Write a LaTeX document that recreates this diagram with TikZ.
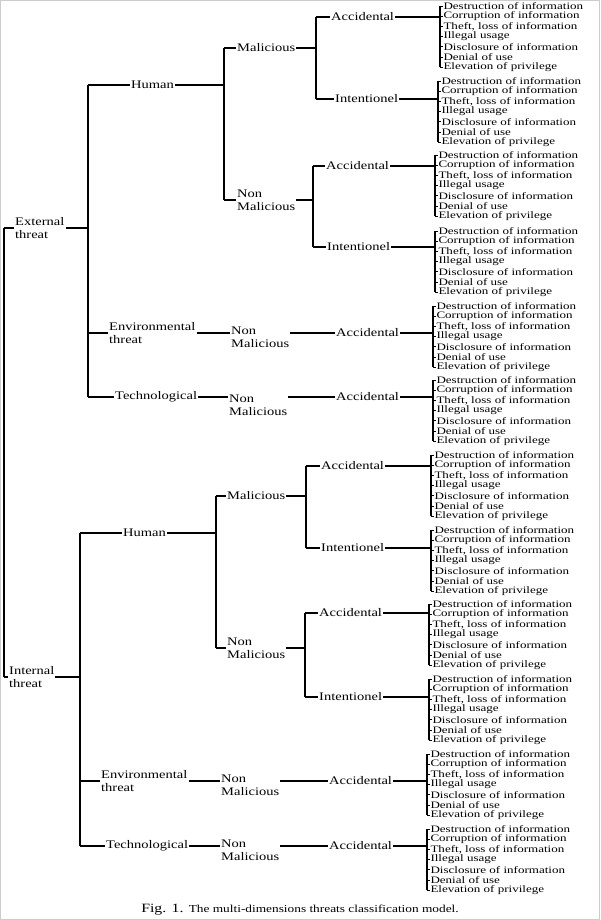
\documentclass[tikz,border=0pt]{standalone}
\usepackage{fontspec}
\setmainfont{Liberation Serif}[FakeStretch=1.25]
\newfontfamily\leaffont{Liberation Serif}[FakeStretch=1.32]
\begin{document}
\begin{tikzpicture}[x=0.75pt,y=-0.75pt,line width=0.8pt,
  lbl/.style={anchor=west,inner sep=0.5pt,font=\fontsize{8.7}{9.6}\selectfont,align=left},
  leaf/.style={anchor=west,inner sep=0pt,font=\leaffont\fontsize{7.4}{8}\selectfont}]
\useasboundingbox (0,0) rectangle (600,920);
\draw[gray!40,line width=1pt] (0.7,0.7) rectangle (599.3,919.3);
\newcommand\leafgrp[4]{%
  \coordinate (#1b) at (#2,#3);
  \foreach \t [count=\i from 0] in {Destruction of information, Corruption of information, {Theft, loss of information}, Illegal usage, Disclosure of information, Denial of use, Elevation of privilege} {
    \node[leaf] (#1-\i) at (#2+3,#3+\i*10.2) {\t};
    \draw[line width=0.7pt] (#2,#3+\i*10.2) -- (#1-\i.west);
  }
  \draw (#2,#3) -- (#2,#3+61.2);
  \draw (#4.east) -- (#4.east -| #1b);
}
\newcommand\forktwo[4]{% parent, x, child1, child2
  \coordinate (fk) at (#2,0);
  \draw (#1.east) -- (#1.east -| fk);
  \draw (#3.west -| fk) -- (#4.west -| fk);
  \draw (#3.west -| fk) -- (#3.west);
  \draw (#4.west -| fk) -- (#4.west);
}
% External
\node[lbl] (E) at (14,228) {External\\threat};
\node[lbl] (H1) at (130,85) {Human};
\node[lbl] (M1) at (236,48) {Malicious};
\node[lbl] (N1) at (236,200) {Non\\Malicious};
\node[lbl] (A1) at (330,17) {Accidental};
\node[lbl] (I1) at (334,99) {Intentionel};
\node[lbl] (A2) at (325,166) {Accidental};
\node[lbl] (I2) at (326,247) {Intentionel};
\node[lbl] (Env1) at (108,333) {Environmental\\threat};
\node[lbl] (N2) at (230,337) {Non\\Malicious};
\node[lbl] (A3) at (335,333) {Accidental};
\node[lbl] (T1) at (114,397) {Technological};
\node[lbl] (N3) at (228,405) {Non\\Malicious};
\node[lbl] (A4) at (335,397) {Accidental};
% Internal
\node[lbl] (I) at (8,677) {Internal\\threat};
\node[lbl] (H2) at (122,533) {Human};
\node[lbl] (M2) at (226,496) {Malicious};
\node[lbl] (N4) at (226,648) {Non\\Malicious};
\node[lbl] (A5) at (320,466) {Accidental};
\node[lbl] (I3) at (320,548) {Intentionel};
\node[lbl] (A6) at (318,613) {Accidental};
\node[lbl] (I4) at (318,697) {Intentionel};
\node[lbl] (Env2) at (100,781) {Environmental\\threat};
\node[lbl] (N5) at (220,785) {Non\\Malicious};
\node[lbl] (A7) at (328,781) {Accidental};
\node[lbl] (T2) at (105,846) {Technological};
\node[lbl] (N6) at (220,850) {Non\\Malicious};
\node[lbl] (A8) at (328,846) {Accidental};
% root
\coordinate (R) at (4,0);
\draw (E.west -| R) -- (I.west -| R);
\draw (E.west -| R) -- (E.west);
\draw (I.west -| R) -- (I.west);
% external forks
\coordinate (x88) at (88,0);
\draw (E.east) -- (E.east -| x88);
\draw (H1.west -| x88) -- (T1.west -| x88);
\foreach \c in {H1,Env1,T1} \draw (\c.west -| x88) -- (\c.west);
\forktwo{H1}{224}{M1}{N1}
\forktwo{M1}{316}{A1}{I1}
\forktwo{N1}{313}{A2}{I2}
\draw (Env1.east) -- (Env1.east -| N2.west);
\draw (N2.east |- A3.west) -- (A3.west);
\draw (T1.east) -- (T1.east -| N3.west);
\draw (N3.east |- A4.west) -- (A4.west);
% internal forks
\coordinate (x80) at (80,0);
\draw (I.east) -- (I.east -| x80);
\draw (H2.west -| x80) -- (T2.west -| x80);
\foreach \c in {H2,Env2,T2} \draw (\c.west -| x80) -- (\c.west);
\forktwo{H2}{216}{M2}{N4}
\forktwo{M2}{306}{A5}{I3}
\forktwo{N4}{305}{A6}{I4}
\draw (Env2.east) -- (Env2.east -| N5.west);
\draw (N5.east |- A7.west) -- (A7.west);
\draw (T2.east) -- (T2.east -| N6.west);
\draw (N6.east |- A8.west) -- (A8.west);
% leaves
\leafgrp{g1}{440}{6}{A1}
\leafgrp{g2}{438}{81}{I1}
\leafgrp{g3}{435}{155}{A2}
\leafgrp{g4}{435}{231}{I2}
\leafgrp{g5}{433}{306}{A3}
\leafgrp{g6}{433}{380}{A4}
\leafgrp{g7}{431}{455}{A5}
\leafgrp{g8}{431}{530}{I3}
\leafgrp{g9}{429}{604}{A6}
\leafgrp{g10}{429}{679}{I4}
\leafgrp{g11}{427}{754}{A7}
\leafgrp{g12}{427}{829}{A8}
\node[inner sep=0] (cap) at (300,910) {\fontsize{9.5}{10}\selectfont Fig. 1. \fontsize{8}{9}\selectfont The multi-dimensions threats classification model.};
\end{tikzpicture}
\end{document}
